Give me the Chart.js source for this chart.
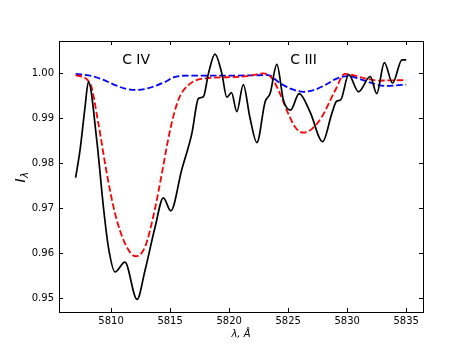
<!DOCTYPE html>
<html>
<head>
<meta charset="utf-8">
<script src="https://cdn.jsdelivr.net/npm/chart.js@4"></script>
<style>
  html, body { margin: 0; padding: 0; background: #fff; }
  canvas { display: block; }
</style>
</head>
<body>
<canvas id="spectrum" width="469" height="351"></canvas>
<script>
/* ---------- DATA ---------- */
const observedWl = [5807.0, 5807.37, 5807.8, 5808.08, 5808.79, 5809.35, 5809.77, 5810.34, 5811.17, 5812.2,
  5812.88, 5813.73, 5814.43, 5815.06, 5815.98, 5816.84, 5817.4, 5817.82, 5818.25, 5818.8,
  5819.38, 5819.8, 5820.2, 5820.65, 5821.2, 5821.75, 5822.35, 5823.05, 5823.47, 5824.04,
  5824.6, 5825.2, 5825.93, 5826.86, 5827.92, 5828.7, 5829.1, 5829.45, 5830.12, 5830.96,
  5831.95, 5832.5, 5833.15, 5833.84, 5834.64, 5835.0];
const observedI = [0.9768, 0.9829, 0.9926, 0.9981, 0.9851, 0.9703, 0.9614, 0.9558, 0.9580, 0.9497,
  0.9562, 0.9658, 0.9723, 0.9694, 0.9785, 0.9866, 0.9944, 0.9948, 1.0000, 1.0043,
  1.0000, 0.9947, 0.9957, 0.9915, 0.9975, 0.9903, 0.9846, 0.9937, 0.9955, 1.0020,
  0.9940, 0.9918, 0.9955, 0.9914, 0.9848, 0.9911, 0.9938, 0.9941, 0.9997, 0.9959,
  0.9993, 0.9955, 1.0024, 0.9978, 1.0030, 1.0030];

const redWl = [5807.0, 5808.22, 5808.92, 5809.64, 5810.34, 5811.19, 5812.09, 5812.88, 5813.73, 5814.3,
  5815.0, 5815.7, 5816.55, 5817.97, 5820.8, 5822.0, 5822.9, 5823.6, 5824.17, 5825.0,
  5825.6, 5826.3, 5827.0, 5827.85, 5829.0, 5829.8, 5830.5, 5831.5, 5832.65, 5835.0];
const redI = [0.9996, 0.9978, 0.9889, 0.9777, 0.9688, 0.9621, 0.9593, 0.9614, 0.9700, 0.9777,
  0.9874, 0.9941, 0.9974, 0.9989, 0.9992, 0.9996, 1.0000, 0.9990, 0.9963, 0.9911,
  0.9880, 0.9868, 0.9876, 0.9903, 0.9963, 0.9999, 0.9996, 0.9989, 0.9984, 0.9985];

const blueWl = [5807.0, 5808.36, 5809.3, 5810.34, 5811.2, 5812.18, 5813.0, 5813.73, 5814.58, 5815.28,
  5816.5, 5820.0, 5823.33, 5824.17, 5825.2, 5826.3, 5827.2, 5828.14, 5829.0, 5830.0,
  5831.0, 5831.8, 5833.2, 5835.0];
const blueI = [0.9999, 0.9994, 0.9986, 0.9974, 0.9966, 0.9963, 0.9966, 0.9972, 0.9981, 0.9991,
  0.9995, 0.9995, 0.9996, 0.9981, 0.9966, 0.9959, 0.9963, 0.9974, 0.9987, 0.9994,
  0.9988, 0.9981, 0.9972, 0.9975];

const xTicks = [5810, 5815, 5820, 5825, 5830, 5835];
const yTicks = [0.95, 0.96, 0.97, 0.98, 0.99, 1.00];

const lineNames = ['C IV', 'C III'];
const lineCentres = [5812.12, 5826.3];

const toPoints = (xs, ys) => xs.map((x, i) => ({ x: x, y: ys[i] }));

/* ---------- FRAME, INWARD TICKS, LABELS ---------- */
const framePlugin = {
  id: 'frame',
  afterDraw(chart) {
    const ctx = chart.ctx;
    const a = chart.chartArea;
    const xs = chart.scales.x, ys = chart.scales.y;
    const tl = 4;
    ctx.save();
    ctx.strokeStyle = '#000';
    ctx.lineWidth = 1;
    ctx.strokeRect(Math.round(a.left) + 0.5, Math.round(a.top) + 0.5,
      Math.round(a.right - a.left), Math.round(a.bottom - a.top));
    ctx.beginPath();
    xTicks.forEach(v => {
      const px = Math.round(xs.getPixelForValue(v)) + 0.5;
      ctx.moveTo(px, a.bottom); ctx.lineTo(px, a.bottom - tl);
      ctx.moveTo(px, a.top); ctx.lineTo(px, a.top + tl);
    });
    yTicks.forEach(v => {
      const py = Math.round(ys.getPixelForValue(v)) + 0.5;
      ctx.moveTo(a.left, py); ctx.lineTo(a.left + tl, py);
      ctx.moveTo(a.right, py); ctx.lineTo(a.right - tl, py);
    });
    ctx.stroke();

    // line identifications
    ctx.fillStyle = '#000';
    ctx.font = '14px "DejaVu Sans"';
    ctx.textAlign = 'center';
    ctx.textBaseline = 'middle';
    lineNames.forEach((name, i) => {
      ctx.fillText(name, xs.getPixelForValue(lineCentres[i]), 60);
    });

    // x axis title
    ctx.font = 'italic 10px "DejaVu Sans"';
    ctx.fillText('λ, Å', (a.left + a.right) / 2, 334);

    // y axis title: I with subscript lambda
    ctx.translate(21, 177.5);
    ctx.rotate(-Math.PI / 2);
    ctx.textAlign = 'left';
    ctx.textBaseline = 'alphabetic';
    ctx.font = 'italic 14px "DejaVu Sans"';
    const wI = ctx.measureText('I').width;
    ctx.font = 'italic 10px "DejaVu Sans"';
    const wL = ctx.measureText('λ').width;
    const start = -(wI + wL) / 2;
    ctx.font = 'italic 14px "DejaVu Sans"';
    ctx.fillText('I', start, 4);
    ctx.font = 'italic 10px "DejaVu Sans"';
    ctx.fillText('λ', start + wI + 0.5, 7);
    ctx.restore();
  }
};

/* ---------- CHART ---------- */
new Chart(document.getElementById('spectrum'), {
  type: 'line',
  data: {
    datasets: [
      {
        label: 'observed',
        data: toPoints(observedWl, observedI),
        borderColor: '#000000',
        borderWidth: 1.7,
        pointRadius: 0,
        cubicInterpolationMode: 'monotone',
        fill: false
      },
      {
        label: 'model C IV + C III',
        data: toPoints(redWl, redI),
        borderColor: '#ff0000',
        borderWidth: 1.8,
        borderDash: [6.5, 2.8],
        pointRadius: 0,
        cubicInterpolationMode: 'monotone',
        fill: false
      },
      {
        label: 'model 2',
        data: toPoints(blueWl, blueI),
        borderColor: '#0000ff',
        borderWidth: 1.8,
        borderDash: [6.5, 2.8],
        pointRadius: 0,
        cubicInterpolationMode: 'monotone',
        fill: false
      }
    ]
  },
  options: {
    responsive: false,
    animation: false,
    devicePixelRatio: 1,
    layout: { padding: { top: 41, right: 46, left: 0, bottom: 0 } },
    plugins: { legend: { display: false }, tooltip: { enabled: false } },
    scales: {
      x: {
        type: 'linear',
        min: 5805.59,
        max: 5836.42,
        grid: { display: false, drawTicks: false },
        border: { display: false },
        afterBuildTicks: s => { s.ticks = xTicks.map(v => ({ value: v })); },
        afterFit: s => { s.height = 39; },
        ticks: {
          color: '#000',
          padding: 3,
          maxRotation: 0,
          font: { family: 'DejaVu Sans', size: 10 },
          callback: v => String(v)
        }
      },
      y: {
        min: 0.9469,
        max: 1.0072,
        grid: { display: false, drawTicks: false },
        border: { display: false },
        afterBuildTicks: s => { s.ticks = yTicks.map(v => ({ value: v })); },
        afterFit: s => { s.width = 59; },
        ticks: {
          color: '#000',
          padding: 5,
          font: { family: 'DejaVu Sans', size: 10 },
          callback: v => Number(v).toFixed(2)
        }
      }
    }
  },
  plugins: [framePlugin]
});
</script>
</body>
</html>
